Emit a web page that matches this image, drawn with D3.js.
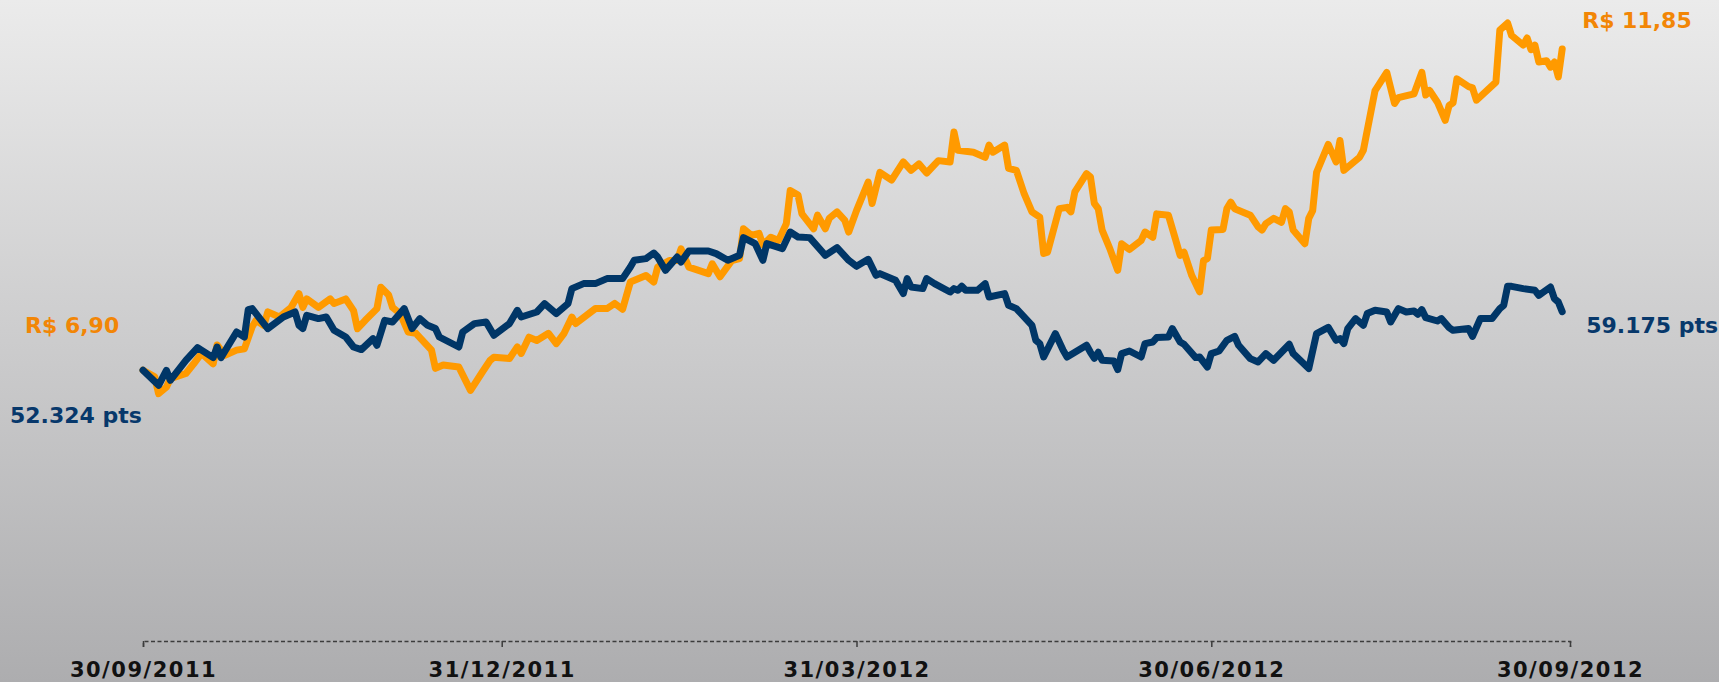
<!DOCTYPE html>
<html>
<head>
<meta charset="utf-8">
<style>
html, body { margin: 0; padding: 0; overflow: hidden; }
svg { display: block; }
</style>
</head>
<body>
<svg width="1719" height="682"></svg>
<script src="https://cdn.jsdelivr.net/npm/d3@7"></script>
<script>

// share price (R$)
var stockDates = [
  "30/09/2011","03/10/2011","04/10/2011","06/10/2011","07/10/2011","11/10/2011","13/10/2011","15/10/2011","18/10/2011","19/10/2011",
  "21/10/2011","24/10/2011","26/10/2011","28/10/2011","29/10/2011","31/10/2011","01/11/2011","04/11/2011","07/11/2011","09/11/2011",
  "10/11/2011","11/11/2011","14/11/2011","17/11/2011","18/11/2011","21/11/2011","23/11/2011","24/11/2011","26/11/2011","29/11/2011",
  "30/11/2011","02/12/2011","03/12/2011","05/12/2011","07/12/2011","09/12/2011","13/12/2011","14/12/2011","16/12/2011","20/12/2011",
  "23/12/2011","26/12/2011","28/12/2011","29/12/2011","02/01/2012","04/01/2012","05/01/2012","07/01/2012","09/01/2012","12/01/2012",
  "14/01/2012","16/01/2012","18/01/2012","19/01/2012","24/01/2012","27/01/2012","29/01/2012","31/01/2012","02/02/2012","06/02/2012",
  "08/02/2012","09/02/2012","12/02/2012","14/02/2012","15/02/2012","17/02/2012","22/02/2012","23/02/2012","25/02/2012","28/02/2012",
  "01/03/2012","02/03/2012","04/03/2012","06/03/2012","07/03/2012","09/03/2012","11/03/2012","13/03/2012","14/03/2012","16/03/2012",
  "17/03/2012","20/03/2012","21/03/2012","23/03/2012","24/03/2012","26/03/2012","28/03/2012","29/03/2012","31/03/2012","03/04/2012",
  "04/04/2012","06/04/2012","09/04/2012","12/04/2012","14/04/2012","16/04/2012","18/04/2012","21/04/2012","24/04/2012","25/04/2012",
  "26/04/2012","30/04/2012","03/05/2012","04/05/2012","05/05/2012","08/05/2012","09/05/2012","11/05/2012","13/05/2012","15/05/2012",
  "17/05/2012","18/05/2012","19/05/2012","22/05/2012","24/05/2012","25/05/2012","26/05/2012","29/05/2012","30/05/2012","31/05/2012",
  "01/06/2012","02/06/2012","04/06/2012","06/06/2012","07/06/2012","09/06/2012","12/06/2012","13/06/2012","15/06/2012","16/06/2012",
  "19/06/2012","21/06/2012","22/06/2012","23/06/2012","25/06/2012","27/06/2012","28/06/2012","29/06/2012","30/06/2012","03/07/2012",
  "04/07/2012","05/07/2012","06/07/2012","10/07/2012","12/07/2012","13/07/2012","14/07/2012","16/07/2012","18/07/2012","19/07/2012",
  "20/07/2012","21/07/2012","24/07/2012","25/07/2012","26/07/2012","27/07/2012","30/07/2012","01/08/2012","02/08/2012","03/08/2012",
  "07/08/2012","08/08/2012","11/08/2012","14/08/2012","16/08/2012","17/08/2012","21/08/2012","23/08/2012","24/08/2012","25/08/2012",
  "27/08/2012","29/08/2012","30/08/2012","31/08/2012","01/09/2012","04/09/2012","05/09/2012","06/09/2012","11/09/2012","12/09/2012",
  "14/09/2012","15/09/2012","18/09/2012","19/09/2012","20/09/2012","21/09/2012","22/09/2012","24/09/2012","25/09/2012","26/09/2012",
  "27/09/2012","28/09/2012"
];
var stockPrices = [
  6.90, 6.80, 6.54, 6.64, 6.77, 6.85, 7.00, 7.16, 7.00, 7.29,
  7.13, 7.21, 7.23, 7.57, 7.67, 7.59, 7.80, 7.72, 7.87, 8.08,
  7.87, 8.00, 7.87, 8.00, 7.93, 8.00, 7.82, 7.54, 7.67, 7.85,
  8.18, 8.06, 7.87, 7.77, 7.49, 7.47, 7.21, 6.93, 6.98, 6.95,
  6.59, 6.87, 7.05, 7.10, 7.08, 7.26, 7.16, 7.41, 7.36, 7.47,
  7.31, 7.47, 7.72, 7.62, 7.85, 7.85, 7.93, 7.84, 8.26, 8.36,
  8.26, 8.49, 8.59, 8.59, 8.77, 8.49, 8.39, 8.54, 8.34, 8.59,
  8.62, 9.08, 8.98, 9.01, 8.83, 8.95, 8.90, 9.16, 9.67, 9.60,
  9.31, 9.08, 9.29, 9.08, 9.24, 9.34, 9.21, 9.03, 9.36, 9.80,
  9.47, 9.95, 9.83, 10.11, 9.98, 10.08, 9.94, 10.13, 10.11, 10.57,
  10.29, 10.26, 10.18, 10.37, 10.26, 10.37, 10.01, 9.98, 9.62, 9.34,
  9.26, 8.70, 8.72, 9.39, 9.41, 9.34, 9.65, 9.93, 9.88, 9.47,
  9.39, 9.06, 8.77, 8.44, 8.85, 8.76, 8.90, 9.03, 8.95, 9.31,
  9.29, 8.88, 8.67, 8.72, 8.36, 8.11, 8.59, 8.62, 9.06, 9.07,
  9.39, 9.49, 9.39, 9.29, 9.11, 9.06, 9.16, 9.24, 9.18, 9.39,
  9.34, 9.06, 8.85, 9.24, 9.36, 9.95, 10.38, 10.11, 10.44, 9.98,
  10.18, 10.29, 11.21, 11.49, 11.01, 11.10, 11.16, 11.49, 11.14, 11.21,
  11.03, 10.75, 10.98, 11.02, 11.39, 11.27, 11.25, 11.06, 11.34, 12.14,
  12.25, 12.06, 11.91, 12.02, 11.84, 11.91, 11.65, 11.67, 11.57, 11.65,
  11.42, 11.85
];

// index (pts)
var indexDates = [
  "30/09/2011","04/10/2011","06/10/2011","07/10/2011","11/10/2011","14/10/2011","18/10/2011","19/10/2011","20/10/2011","24/10/2011",
  "26/10/2011","27/10/2011","28/10/2011","01/11/2011","05/11/2011","08/11/2011","09/11/2011","10/11/2011","11/11/2011","14/11/2011",
  "16/11/2011","18/11/2011","21/11/2011","23/11/2011","25/11/2011","28/11/2011","29/11/2011","01/12/2011","03/12/2011","06/12/2011",
  "08/12/2011","10/12/2011","12/12/2011","14/12/2011","15/12/2011","20/12/2011","21/12/2011","24/12/2011","27/12/2011","29/12/2011",
  "02/01/2012","04/01/2012","05/01/2012","09/01/2012","11/01/2012","14/01/2012","17/01/2012","18/01/2012","21/01/2012","24/01/2012",
  "27/01/2012","31/01/2012","02/02/2012","03/02/2012","06/02/2012","08/02/2012","09/02/2012","11/02/2012","14/02/2012","15/02/2012",
  "17/02/2012","22/02/2012","24/02/2012","27/02/2012","01/03/2012","02/03/2012","05/03/2012","07/03/2012","08/03/2012","12/03/2012",
  "14/03/2012","16/03/2012","19/03/2012","23/03/2012","26/03/2012","29/03/2012","31/03/2012","03/04/2012","05/04/2012","06/04/2012",
  "10/04/2012","12/04/2012","13/04/2012","14/04/2012","17/04/2012","18/04/2012","20/04/2012","24/04/2012","25/04/2012","26/04/2012",
  "27/04/2012","28/04/2012","01/05/2012","03/05/2012","04/05/2012","08/05/2012","09/05/2012","11/05/2012","15/05/2012","16/05/2012",
  "17/05/2012","18/05/2012","21/05/2012","23/05/2012","24/05/2012","29/05/2012","30/05/2012","31/05/2012","01/06/2012","02/06/2012",
  "05/06/2012","06/06/2012","07/06/2012","09/06/2012","12/06/2012","13/06/2012","15/06/2012","16/06/2012","19/06/2012","20/06/2012",
  "22/06/2012","23/06/2012","26/06/2012","27/06/2012","29/06/2012","30/06/2012","02/07/2012","04/07/2012","06/07/2012","07/07/2012",
  "10/07/2012","12/07/2012","14/07/2012","16/07/2012","20/07/2012","21/07/2012","25/07/2012","27/07/2012","30/07/2012","01/08/2012",
  "02/08/2012","03/08/2012","04/08/2012","06/08/2012","08/08/2012","09/08/2012","11/08/2012","14/08/2012","15/08/2012","17/08/2012",
  "19/08/2012","21/08/2012","22/08/2012","23/08/2012","24/08/2012","27/08/2012","28/08/2012","30/08/2012","31/08/2012","04/09/2012",
  "05/09/2012","07/09/2012","10/09/2012","12/09/2012","13/09/2012","14/09/2012","15/09/2012","18/09/2012","21/09/2012","22/09/2012",
  "25/09/2012","26/09/2012","27/09/2012","28/09/2012"
];
var indexPoints = [
  52324, 50572, 52324, 51156, 53492, 54975, 53807, 55045, 53807, 56797,
  56213, 59414, 59531, 57195, 58549, 59133, 57580, 57195, 58748, 58363,
  58549, 56996, 56213, 55045, 54742, 56027, 55244, 58164, 57965, 59531,
  57195, 58363, 57580, 57195, 56213, 55045, 56797, 57779, 57965, 56412,
  57779, 59332, 58549, 59133, 60115, 58947, 60115, 61867, 62451, 62451,
  63035, 63035, 64389, 65172, 65371, 66025, 65557, 64004, 65557, 64973,
  66258, 66258, 65955, 65172, 65756, 67823, 67123, 65172, 67123, 66539,
  68477, 67893, 67823, 65756, 66655, 65172, 64471, 65289, 63420, 63619,
  62836, 61283, 63035, 62053, 61867, 63035, 62451, 61469, 61867, 61668,
  62135, 61668, 61668, 62451, 60885, 61283, 59916, 59531, 57580, 55828,
  55443, 53877, 56611, 54660, 53877, 55244, 54426, 53726, 54426, 53492,
  53410, 52406, 54275, 54578, 53877, 55443, 55629, 56143, 56213, 57195,
  55629, 55361, 53807, 53877, 52709, 54275, 54578, 55828, 56295, 55244,
  53691, 53293, 54275, 53492, 55361, 54275, 52523, 56611, 57346, 55828,
  56027, 55443, 57195, 58363, 57580, 58947, 59332, 59133, 57965, 59531,
  59133, 59250, 58865, 59414, 58479, 58082, 58363, 57311, 56996, 57195,
  56295, 58363, 58363, 59531, 59916, 62135, 62135, 61867, 61668, 61084,
  62053, 60699, 60301, 59175
];

var tickDates = ["30/09/2011", "31/12/2011", "31/03/2012", "30/06/2012", "30/09/2012"];

var svg = d3.select("svg"),
    width = +svg.attr("width"),
    height = +svg.attr("height");

var parse = d3.timeParse("%d/%m/%Y"),
    br = d3.formatLocale({decimal: ",", thousands: ".", grouping: [3], currency: ["R$ ", ""]}),
    formatPrice = br.format("$.2f"),
    formatPts = function(d) { return br.format(",.0f")(d) + " pts"; };

var orange = "#ff9a00",
    orangeText = "#f28606",
    navy = "#003667",
    navyText = "#07386b";

// both series drawn as % of their first value
function series(dates, values) {
  var base = values[0];
  return dates.map(function(d, i) {
    return {date: parse(d), value: values[i], pct: values[i] / base * 100};
  });
}
var stock = series(stockDates, stockPrices),
    index = series(indexDates, indexPoints);

var x = d3.scaleTime()
    .domain([parse(tickDates[0]), parse(tickDates[tickDates.length - 1])])
    .range([143, 1570]);

var y = d3.scaleLinear()
    .domain([40, 180])
    .range([639, 12]);

// background
var grad = svg.append("defs").append("linearGradient")
    .attr("id", "bg")
    .attr("x1", 0).attr("y1", 0).attr("x2", 0).attr("y2", 1);
grad.append("stop").attr("offset", 0).attr("stop-color", "#ebebeb");
grad.append("stop").attr("offset", 1).attr("stop-color", "#adadaf");

svg.append("rect")
    .attr("width", width)
    .attr("height", height)
    .attr("fill", "url(#bg)");

// axis
var axis = svg.append("g")
    .attr("transform", "translate(0,641)")
    .call(d3.axisBottom(x)
      .tickValues(tickDates.map(parse))
      .tickSize(6)
      .tickSizeOuter(6)
      .tickFormat(d3.timeFormat("%d/%m/%Y")));

axis.select(".domain")
    .attr("stroke", "#3c3c3c")
    .attr("stroke-width", 1.5)
    .attr("stroke-dasharray", "4,2.5");
axis.selectAll(".tick line")
    .attr("stroke", "#3c3c3c")
    .attr("stroke-width", 1.5);
axis.selectAll(".tick text")
    .attr("y", 36)
    .attr("dy", 0)
    .attr("fill", "#111")
    .attr("font-family", "'DejaVu Sans', Verdana, sans-serif")
    .attr("font-weight", "bold")
    .attr("font-size", 21)
    .attr("letter-spacing", "1.5px");

// lines
var line = d3.line()
    .x(function(d) { return x(d.date); })
    .y(function(d) { return y(d.pct); });

svg.append("path")
    .datum(stock)
    .attr("fill", "none")
    .attr("stroke", orange)
    .attr("stroke-width", 7)
    .attr("stroke-linejoin", "round")
    .attr("stroke-linecap", "round")
    .attr("d", line);

svg.append("path")
    .datum(index)
    .attr("fill", "none")
    .attr("stroke", navy)
    .attr("stroke-width", 7)
    .attr("stroke-linejoin", "round")
    .attr("stroke-linecap", "round")
    .attr("d", line);

// start / end values
var labels = svg.append("g")
    .attr("font-family", "'DejaVu Sans', Verdana, sans-serif")
    .attr("font-weight", "bold")
    .attr("font-size", 22);

var first = function(s) { return s[0]; },
    last = function(s) { return s[s.length - 1]; };

labels.append("text")
    .attr("x", x(first(stock).date) - 118)
    .attr("y", y(first(stock).pct) - 37)
    .attr("fill", orangeText)
    .text(formatPrice(first(stock).value));

labels.append("text")
    .attr("x", x(first(index).date) - 133)
    .attr("y", y(first(index).pct) + 53)
    .attr("fill", navyText)
    .text(formatPts(first(index).value));

labels.append("text")
    .attr("x", x(last(stock).date) + 20)
    .attr("y", 28)
    .attr("fill", orangeText)
    .text(formatPrice(last(stock).value));

labels.append("text")
    .attr("x", x(last(index).date) + 24)
    .attr("y", y(last(index).pct) + 21)
    .attr("fill", navyText)
    .text(formatPts(last(index).value));

</script>
</body>
</html>
